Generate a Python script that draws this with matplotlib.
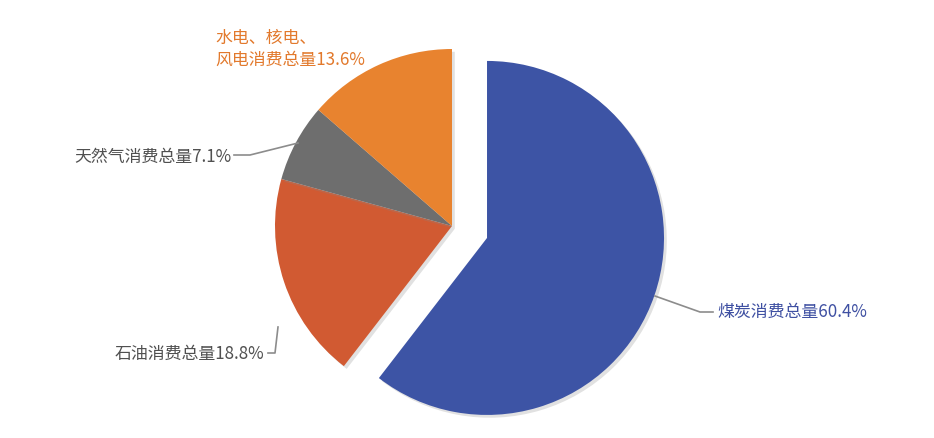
import matplotlib.pyplot as plt
import matplotlib.patheffects as pe

plt.rcParams['font.family'] = ['Noto Sans CJK SC', 'DejaVu Sans']

labels = ['煤炭消费总量60.4%', '石油消费总量18.8%', '天然气消费总量7.1%', '水电、核电、\n风电消费总量13.6%']
values = [60.4, 18.8, 7.1, 13.6]
colors = ['#3d54a5', '#d15a32', '#6e6e6e', '#e8832f']
text_colors = ['#3f50a2', '#505050', '#505050', '#e2792c']

fig = plt.figure(figsize=(9.34, 4.39), dpi=100)
ax = fig.add_axes([0, 0, 1, 1])

# pixel coordinates, y up
cx, cy, r = 452, 439 - 227, 177
wedges, _ = ax.pie(values, radius=r, center=(cx, cy), startangle=90, counterclock=False,
                   colors=colors, explode=[37, 0, 0, 0], frame=True,
                   wedgeprops=dict(linewidth=0))
for w in wedges:
    w.set_path_effects([pe.SimplePatchShadow(offset=(2, -2), alpha=0.25, shadow_rgbFace='#888888'),
                        pe.Normal()])
ax.set_xlim(0, 934)
ax.set_ylim(0, 439)
ax.axis('off')

fs = 12.2
line_kw = dict(color='#8c8c8c', lw=1.2)

# coal
ax.plot([655, 700, 713], [439 - 297, 439 - 313, 439 - 313], **line_kw)
ax.text(717, 439 - 312, labels[0], color=text_colors[0], fontsize=fs, va='center', ha='left',
        weight='medium')

# oil
ax.plot([278, 275, 268], [439 - 328, 439 - 354, 439 - 354], **line_kw)
ax.text(264, 439 - 354, labels[1], color=text_colors[1], fontsize=fs, va='center', ha='right',
        weight='medium')

# gas
ax.plot([298, 250, 234], [439 - 144, 439 - 156, 439 - 156], **line_kw)
ax.text(231, 439 - 157, labels[2], color=text_colors[2], fontsize=fs, va='center', ha='right',
        weight='medium')

# hydro / nuclear / wind
ax.text(215, 439 - 49, labels[3], color=text_colors[3], fontsize=fs, va='center', ha='left',
        linespacing=1.3, weight='medium')

fig.savefig('out.png', dpi=100)
